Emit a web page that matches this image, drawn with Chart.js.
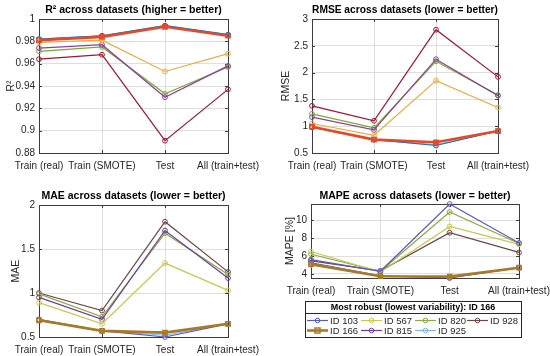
<!DOCTYPE html>
<html>
<head>
<meta charset="utf-8">
<title>Metrics across datasets</title>
<script src="https://cdn.jsdelivr.net/npm/chart.js@4.4.1/dist/chart.umd.min.js"></script>
<style>
  body { margin: 0; background: #fff; }
  #fig { position: relative; width: 550px; height: 356px; }
  #fig canvas { position: absolute; }
</style>
</head>
<body>
<div id="fig">
  <canvas id="r2Chart" width="275" height="178" style="left:0;top:0"></canvas>
  <canvas id="rmseChart" width="275" height="178" style="left:275px;top:0"></canvas>
  <canvas id="maeChart" width="275" height="178" style="left:0;top:178px"></canvas>
  <canvas id="mapeChart" width="275" height="178" style="left:275px;top:178px"></canvas>
</div>
<script>
// data
const datasetLabels = ['Train (real)', 'Train (SMOTE)', 'Test', 'All (train+test)'];
const modelIds = ['ID 103', 'ID 166', 'ID 567', 'ID 815', 'ID 820', 'ID 925', 'ID 928'];
const robustId = 'ID 166';

// one row per model (same order as modelIds)
const r2Values = [
    [0.982, 0.985, 0.994, 0.986],
    [0.981, 0.984, 0.993, 0.985],
    [0.979, 0.981, 0.953, 0.969],
    [0.974, 0.977, 0.930, 0.958],
    [0.971, 0.975, 0.933, 0.957],
    [0.982, 0.985, 0.994, 0.986],
    [0.964, 0.968, 0.891, 0.937]
];
const rmseValues = [
    [0.98, 0.75, 0.64, 0.91],
    [0.99, 0.75, 0.70, 0.91],
    [1.05, 0.83, 1.85, 1.35],
    [1.17, 0.93, 2.25, 1.57],
    [1.23, 0.97, 2.21, 1.58],
    [0.98, 0.75, 0.65, 0.91],
    [1.38, 1.10, 2.80, 1.92]
];
const maeValues = [
    [0.70, 0.57, 0.50, 0.65],
    [0.69, 0.57, 0.55, 0.65],
    [0.89, 0.65, 1.34, 1.03],
    [0.95, 0.70, 1.71, 1.17],
    [0.99, 0.73, 1.68, 1.21],
    [0.69, 0.57, 0.52, 0.65],
    [1.00, 0.80, 1.81, 1.24]
];
const mapeValues = [
    [5.6, 4.3, 11.8, 7.45],
    [5.1, 3.75, 3.7, 4.7],
    [6.5, 4.2, 9.3, 7.3],
    [5.25, 3.8, 3.55, 4.7],
    [6.2, 4.3, 10.9, 7.4],
    [5.0, 3.75, 3.65, 4.7],
    [5.45, 4.35, 8.6, 6.4]
];

const r2Ticks = [0.88, 0.9, 0.92, 0.94, 0.96, 0.98, 1];
const rmseTicks = [0.5, 1, 1.5, 2, 2.5, 3];
const maeTicks = [0.5, 1, 1.5, 2];
const mapeTicks = [4, 6, 8, 10];

// styles
const topColors = ['#1f6fb8', '#e6482a', '#f2aa3c', '#8e3e9e', '#77ac30', '#4dbeee', '#a2142f'];
const bottomColors = ['#5a5ac0', '#a87a28', '#c8c850', '#6e3aa0', '#8caa46', '#80b4ee', '#6e4646'];
const FONT = '"Liberation Sans", Arial, Helvetica, sans-serif';
const TEXT = '#262626';
const GRID = '#dedede';

// axes box with inward tick marks, like matlab
const axisBox = {
    id: 'axisBox',
    beforeDatasetsDraw(chart) {
        const { ctx, chartArea: a, scales } = chart;
        ctx.save();
        ctx.strokeStyle = '#3c3c3c';
        ctx.lineWidth = 1;
        ctx.beginPath();
        scales.y.ticks.forEach(t => {
            const y = Math.round(scales.y.getPixelForValue(t.value)) + 0.5;
            ctx.moveTo(a.left, y); ctx.lineTo(a.left + 3, y);
            ctx.moveTo(a.right, y); ctx.lineTo(a.right - 3, y);
        });
        scales.x.ticks.forEach((t, i) => {
            const x = Math.round(scales.x.getPixelForTick(i)) + 0.5;
            ctx.moveTo(x, a.bottom); ctx.lineTo(x, a.bottom - 3);
            ctx.moveTo(x, a.top); ctx.lineTo(x, a.top + 3);
        });
        ctx.stroke();
        ctx.strokeRect(Math.round(a.left) + 0.5, Math.round(a.top) + 0.5,
            Math.round(a.right - a.left), Math.round(a.bottom - a.top));
        ctx.restore();
    }
};

// boxed legend under the last panel
const boxLegend = {
    id: 'boxLegend',
    afterDraw(chart, args, opts) {
        if (!opts.show) return;
        const ctx = chart.ctx;
        const { left, right, top, sep, bottom, rows, cols, lineLen } = opts;
        ctx.save();
        ctx.fillStyle = '#fff';
        ctx.fillRect(left, top, right - left, bottom - top);
        ctx.strokeStyle = '#262626';
        ctx.lineWidth = 1;
        ctx.strokeRect(left + 0.5, top + 0.5, right - left, bottom - top);
        ctx.beginPath();
        ctx.moveTo(left, sep + 0.5);
        ctx.lineTo(right, sep + 0.5);
        ctx.stroke();

        ctx.fillStyle = '#000';
        ctx.font = 'bold 9px ' + FONT;
        ctx.textAlign = 'center';
        ctx.textBaseline = 'middle';
        ctx.fillText(opts.title, (left + right) / 2, (top + sep) / 2 + 0.5);

        ctx.textAlign = 'left';
        ctx.font = '9.5px ' + FONT;
        chart.data.datasets.forEach((ds, i) => {
            const x = cols[Math.floor(i / 2)];
            const y = rows[i % 2];
            ctx.strokeStyle = ds.borderColor;
            ctx.lineWidth = ds.borderWidth;
            ctx.beginPath();
            ctx.moveTo(x, y);
            ctx.lineTo(x + lineLen, y);
            ctx.stroke();
            ctx.lineWidth = ds.pointBorderWidth;
            const mx = x + lineLen / 2;
            ctx.beginPath();
            if (ds.pointStyle === 'rect') {
                ctx.rect(mx - 2.5, y - 2.5, 5, 5);
            } else {
                ctx.arc(mx, y, 2.3, 0, Math.PI * 2);
            }
            ctx.stroke();
            ctx.fillStyle = TEXT;
            ctx.fillText(ds.label, x + lineLen + 2, y + 0.5);
        });
        ctx.restore();
    }
};

function makeDatasets(values, colors) {
    return modelIds.map((id, i) => {
        const robust = id === robustId;
        return {
            label: id,
            data: values[i],
            borderColor: colors[i],
            backgroundColor: colors[i],
            pointBorderColor: colors[i],
            pointBackgroundColor: 'rgba(255,255,255,0)',
            borderWidth: robust ? 2.6 : 1.2,
            pointStyle: robust ? 'rect' : 'circle',
            pointRadius: robust ? 3 : 2.4,
            pointBorderWidth: robust ? 1.5 : 1,
            tension: 0,
            clip: false,
            order: robust ? 0 : 1
        };
    });
}

function makeChart(canvasId, cfg) {
    const area = cfg.area;
    const lh = 10.5 * 1.2;
    const titleTop = cfg.titleY - lh / 2;
    return new Chart(document.getElementById(canvasId), {
        type: 'line',
        data: {
            labels: datasetLabels,
            datasets: makeDatasets(cfg.values, cfg.colors)
        },
        options: {
            responsive: false,
            animation: false,
            layout: { padding: { top: 0, right: 275 - area.r, bottom: 0, left: 0 } },
            plugins: {
                legend: { display: false },
                tooltip: { enabled: false },
                title: {
                    display: true,
                    text: cfg.title,
                    fullSize: false,
                    color: '#000',
                    font: { family: FONT, size: 10.5, weight: 'bold' },
                    padding: { top: titleTop, bottom: area.t - titleTop - lh }
                },
                boxLegend: cfg.legend || { show: false }
            },
            scales: {
                x: {
                    type: 'category',
                    offset: false,
                    grid: { color: GRID, drawTicks: false, offset: false },
                    border: { display: false },
                    ticks: {
                        color: TEXT, font: { family: FONT, size: 10 },
                        padding: 7, maxRotation: 0, autoSkip: false
                    },
                    afterFit(s) {
                        s.height = 178 - area.b;
                        s.paddingLeft = 0;
                        s.paddingRight = 0;
                    }
                },
                y: {
                    min: cfg.min,
                    max: cfg.max,
                    grid: { color: GRID, drawTicks: false },
                    border: { display: false },
                    ticks: {
                        color: TEXT, font: { family: FONT, size: 10 }, padding: 4,
                        callback: v => String(v)
                    },
                    title: {
                        display: true,
                        text: cfg.yTitle,
                        color: TEXT,
                        font: { family: FONT, size: 10.5 },
                        padding: { top: cfg.yTitleX - lh / 2, bottom: 0 }
                    },
                    afterBuildTicks(s) {
                        s.ticks = cfg.ticks.map(v => ({ value: v }));
                    },
                    afterFit(s) {
                        s.width = area.l;
                        s.paddingTop = 0;
                        s.paddingBottom = 0;
                    }
                }
            }
        },
        plugins: [axisBox, boxLegend]
    });
}

makeChart('r2Chart', {
    title: 'R² across datasets (higher = better)', yTitle: 'R²',
    values: r2Values, ticks: r2Ticks, min: 0.88, max: 1, colors: topColors,
    area: { l: 39, r: 228, t: 19, b: 153 }, titleY: 10, yTitleX: 11
});

makeChart('rmseChart', {
    title: 'RMSE across datasets (lower = better)', yTitle: 'RMSE',
    values: rmseValues, ticks: rmseTicks, min: 0.5, max: 3, colors: topColors,
    area: { l: 37, r: 223, t: 19, b: 153 }, titleY: 10, yTitleX: 11
});

makeChart('maeChart', {
    title: 'MAE across datasets (lower = better)', yTitle: 'MAE',
    values: maeValues, ticks: maeTicks, min: 0.5, max: 2, colors: bottomColors,
    area: { l: 39, r: 228, t: 27, b: 159 }, titleY: 18, yTitleX: 16
});

makeChart('mapeChart', {
    title: 'MAPE across datasets (lower = better)', yTitle: 'MAPE [%]',
    values: mapeValues, ticks: mapeTicks, min: 3.55, max: 11.8, colors: bottomColors,
    area: { l: 36, r: 244, t: 26, b: 100 }, titleY: 18, yTitleX: 15,
    legend: {
        show: true,
        title: 'Most robust (lowest variability): ' + robustId,
        left: 30, right: 246, top: 123, sep: 135, bottom: 159,
        rows: [142.5, 152.5], cols: [32, 86, 140, 192], lineLen: 21
    }
});
</script>
</body>
</html>
